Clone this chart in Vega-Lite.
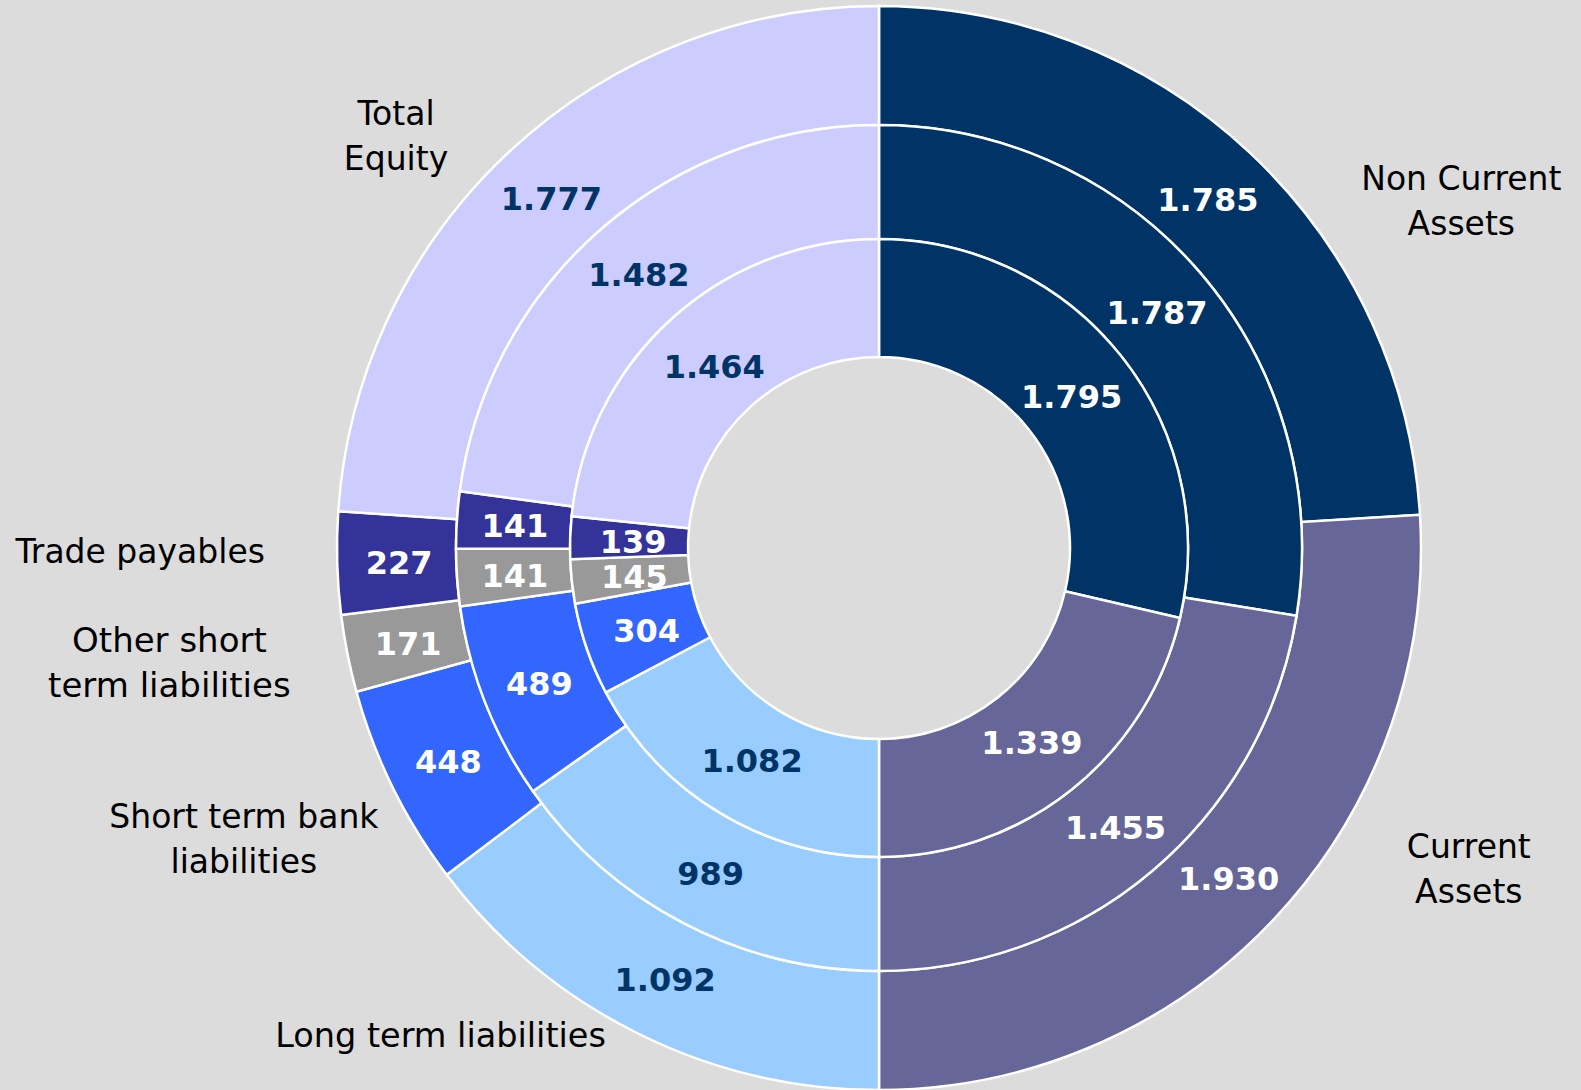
{
  "$schema": "https://vega.github.io/schema/vega-lite/v6.json",
  "width": 1404,
  "height": 1084,
  "autosize": {"type": "none"},
  "padding": {"left": 177, "top": 6, "right": 0, "bottom": 0},
  "background": "#dcdcdc",
  "config": {
    "view": {"stroke": null},
    "locale": {"number": {"decimal": ",", "thousands": ".", "grouping": [3], "currency": ["", " €"]}}
  },
  "data": {
    "values": [
      {"ring": "outer", "order": 1, "cat": "Non Current\nAssets", "value": 1785},
      {"ring": "outer", "order": 2, "cat": "Current\nAssets", "value": 1930},
      {"ring": "outer", "order": 3, "cat": "Long term liabilities", "value": 1092},
      {"ring": "outer", "order": 4, "cat": "Short term bank\nliabilities", "value": 448},
      {"ring": "outer", "order": 5, "cat": "Other short\nterm liabilities", "value": 171},
      {"ring": "outer", "order": 6, "cat": "Trade payables", "value": 227},
      {"ring": "outer", "order": 7, "cat": "Total\nEquity", "value": 1777},
      {"ring": "middle", "order": 1, "cat": "Non Current\nAssets", "value": 1787},
      {"ring": "middle", "order": 2, "cat": "Current\nAssets", "value": 1455},
      {"ring": "middle", "order": 3, "cat": "Long term liabilities", "value": 989},
      {"ring": "middle", "order": 4, "cat": "Short term bank\nliabilities", "value": 489},
      {"ring": "middle", "order": 5, "cat": "Other short\nterm liabilities", "value": 141},
      {"ring": "middle", "order": 6, "cat": "Trade payables", "value": 141},
      {"ring": "middle", "order": 7, "cat": "Total\nEquity", "value": 1482},
      {"ring": "inner", "order": 1, "cat": "Non Current\nAssets", "value": 1795},
      {"ring": "inner", "order": 2, "cat": "Current\nAssets", "value": 1339},
      {"ring": "inner", "order": 3, "cat": "Long term liabilities", "value": 1082},
      {"ring": "inner", "order": 4, "cat": "Short term bank\nliabilities", "value": 304},
      {"ring": "inner", "order": 5, "cat": "Other short\nterm liabilities", "value": 145},
      {"ring": "inner", "order": 6, "cat": "Trade payables", "value": 139},
      {"ring": "inner", "order": 7, "cat": "Total\nEquity", "value": 1464}
    ]
  },
  "resolve": {"scale": {"theta": "independent"}},
  "layer": [
    {
      "transform": [{"filter": "datum.ring === 'outer'"}],
      "encoding": {
        "theta": {"field": "value", "type": "quantitative", "stack": "normalize"},
        "order": {"field": "order", "type": "quantitative"}
      },
      "layer": [
        {
          "mark": {"type": "arc", "radius": 542, "radius2": 423, "stroke": "white", "strokeWidth": 2.5},
          "encoding": {
            "color": {"field": "cat", "type": "nominal", "legend": null,
              "scale": {"domain": ["Non Current\nAssets", "Current\nAssets", "Long term liabilities", "Short term bank\nliabilities", "Other short\nterm liabilities", "Trade payables", "Total\nEquity"],
                        "range": ["#003366", "#666699", "#99CCFF", "#3366FF", "#999999", "#333399", "#CCCCFF"]}}
          }
        },
        {
          "mark": {"type": "text", "radius": 480, "dy": 3, "font": "DejaVu Sans", "fontWeight": "bold", "fontSize": 32, "baseline": "middle", "align": "center"},
          "encoding": {
            "detail": {"field": "cat", "type": "nominal"},
            "text": {"field": "value", "type": "quantitative", "format": ",d"},
            "color": {"condition": {"test": "datum.order === 3 || datum.order === 7", "value": "#003366"}, "value": "white"}
          }
        },
        {
          "mark": {"type": "text", "radius": 542, "dx": 211, "dy": 37, "font": "DejaVu Sans", "fontSize": 33, "lineHeight": 45, "lineBreak": "\n", "align": "center", "baseline": "alphabetic", "color": "black"},
          "encoding": {"detail": {"field": "cat", "type": "nominal"}, "text": {"condition": {"test": "datum.order === 1", "field": "cat"}, "value": ""}}
        },
        {
          "mark": {"type": "text", "radius": 542, "dx": 195, "dy": -61, "font": "DejaVu Sans", "fontSize": 33, "lineHeight": 45, "lineBreak": "\n", "align": "center", "baseline": "alphabetic", "color": "black"},
          "encoding": {"detail": {"field": "cat", "type": "nominal"}, "text": {"condition": {"test": "datum.order === 2", "field": "cat"}, "value": ""}}
        },
        {
          "mark": {"type": "text", "radius": 542, "dx": -197, "dy": 14, "font": "DejaVu Sans", "fontSize": 33.5, "lineHeight": 45, "lineBreak": "\n", "align": "center", "baseline": "alphabetic", "color": "black"},
          "encoding": {"detail": {"field": "cat", "type": "nominal"}, "text": {"condition": {"test": "datum.order === 3", "field": "cat"}, "value": ""}}
        },
        {
          "mark": {"type": "text", "radius": 542, "dx": -149, "dy": 40, "font": "DejaVu Sans", "fontSize": 33, "lineHeight": 45, "lineBreak": "\n", "align": "center", "baseline": "alphabetic", "color": "black"},
          "encoding": {"detail": {"field": "cat", "type": "nominal"}, "text": {"condition": {"test": "datum.order === 4", "field": "cat"}, "value": ""}}
        },
        {
          "mark": {"type": "text", "radius": 542, "dx": -178, "dy": -2, "font": "DejaVu Sans", "fontSize": 34, "lineHeight": 45, "lineBreak": "\n", "align": "center", "baseline": "alphabetic", "color": "black"},
          "encoding": {"detail": {"field": "cat", "type": "nominal"}, "text": {"condition": {"test": "datum.order === 5", "field": "cat"}, "value": ""}}
        },
        {
          "mark": {"type": "text", "radius": 542, "dx": -197, "dy": 0, "font": "DejaVu Sans", "fontSize": 33, "lineHeight": 45, "lineBreak": "\n", "align": "center", "baseline": "alphabetic", "color": "black"},
          "encoding": {"detail": {"field": "cat", "type": "nominal"}, "text": {"condition": {"test": "datum.order === 6", "field": "cat"}, "value": ""}}
        },
        {
          "mark": {"type": "text", "radius": 542, "dx": -113, "dy": -27, "font": "DejaVu Sans", "fontSize": 33, "lineHeight": 45, "lineBreak": "\n", "align": "center", "baseline": "alphabetic", "color": "black"},
          "encoding": {"detail": {"field": "cat", "type": "nominal"}, "text": {"condition": {"test": "datum.order === 7", "field": "cat"}, "value": ""}}
        }
      ]
    },
    {
      "transform": [{"filter": "datum.ring === 'middle'"}],
      "encoding": {
        "theta": {"field": "value", "type": "quantitative", "stack": "normalize"},
        "order": {"field": "order", "type": "quantitative"}
      },
      "layer": [
        {
          "mark": {"type": "arc", "radius": 423, "radius2": 309, "stroke": "white", "strokeWidth": 2.5},
          "encoding": {"color": {"field": "cat", "type": "nominal", "legend": null}}
        },
        {
          "mark": {"type": "text", "radius": 365, "dy": 3, "font": "DejaVu Sans", "fontWeight": "bold", "fontSize": 32, "baseline": "middle", "align": "center"},
          "encoding": {
            "detail": {"field": "cat", "type": "nominal"},
            "text": {"field": "value", "type": "quantitative", "format": ",d"},
            "color": {"condition": {"test": "datum.order === 3 || datum.order === 7", "value": "#003366"}, "value": "white"}
          }
        }
      ]
    },
    {
      "transform": [{"filter": "datum.ring === 'inner'"}],
      "encoding": {
        "theta": {"field": "value", "type": "quantitative", "stack": "normalize"},
        "order": {"field": "order", "type": "quantitative"}
      },
      "layer": [
        {
          "mark": {"type": "arc", "radius": 309, "radius2": 191, "stroke": "white", "strokeWidth": 2.5},
          "encoding": {"color": {"field": "cat", "type": "nominal", "legend": null}}
        },
        {
          "mark": {"type": "text", "radius": 246, "dy": 3, "font": "DejaVu Sans", "fontWeight": "bold", "fontSize": 32, "baseline": "middle", "align": "center"},
          "encoding": {
            "detail": {"field": "cat", "type": "nominal"},
            "text": {"field": "value", "type": "quantitative", "format": ",d"},
            "color": {"condition": {"test": "datum.order === 3 || datum.order === 7", "value": "#003366"}, "value": "white"}
          }
        }
      ]
    }
  ]
}
